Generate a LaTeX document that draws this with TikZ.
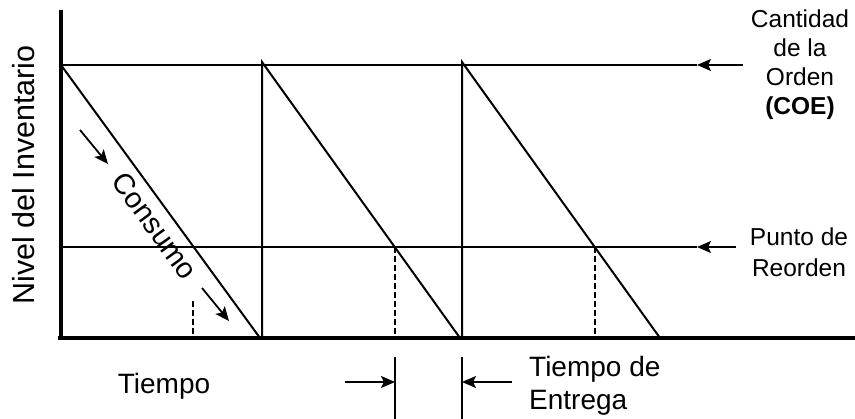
\documentclass[tikz,border=0pt]{standalone}
\usepackage{fontspec}
\setmainfont{Liberation Sans}
\usetikzlibrary{arrows.meta}
\begin{document}
\begin{tikzpicture}[x=1pt,y=-1pt,
  axisline/.style={line width=4pt},
  plotline/.style={line width=2pt},
  thinline/.style={line width=1.7pt},
  dashline/.style={line width=1.7pt,dash pattern=on 6pt off 3pt},
  arr/.style={line width=1.8pt,-{Stealth[length=14pt,width=12pt,inset=3pt]}},
  lbl/.style={inner sep=0pt,font=\fontsize{24.5}{30}\selectfont,align=center},
  big/.style={inner sep=0pt,font=\fontsize{28}{30}\selectfont}]
\useasboundingbox (0,0) rectangle (855,419);
% coordinates
\coordinate (o) at (61,338);
\coordinate (ytop) at (61,10);
\coordinate (xend) at (855,338);
\coordinate (q0) at (61,65);
\coordinate (e1) at (260,338);
\coordinate (t1) at (262,62);
\coordinate (e2) at (460,338);
\coordinate (t2) at (462,62);
\coordinate (e3) at (660,338);
\coordinate (r0) at (61,247);
\coordinate (qa) at (697,65);
\coordinate (qs) at (743,65);
\coordinate (ra) at (697,247);
\coordinate (rs) at (736,247);
% reference lines
\draw[thinline] (q0) -- (qa);
\draw[arr] (qs) -- (qa);
\draw[thinline] (r0) -- (ra);
\draw[arr] (rs) -- (ra);
% sawtooth
\draw[plotline] (q0) -- (e1);
\draw[plotline] (262,338) -- (t1) -- (e2);
\draw[plotline] (462,338) -- (t2) -- (e3);
% dashed
\draw[dashline] (193,301) -- (193,338);
\draw[dashline] (395,247) -- (395,338);
\draw[dashline] (595,247) -- (595,338);
% axes
\draw[axisline] (ytop) -- (61,340);
\draw[axisline] (58,338) -- (xend);
% lead time
\coordinate (la) at (395,357);
\coordinate (lb) at (395,419);
\coordinate (ma) at (462,357);
\coordinate (mb) at (462,419);
\draw[thinline] (la) -- (lb);
\draw[thinline] (ma) -- (mb);
\draw[arr] (345,382) -- (395,382);
\draw[arr] (512,382) -- (462,382);
% consumo arrows
\draw[arr] (80,130) -- (108,164);
\draw[arr] (202,288) -- (229,321);
% texts
\node[big,rotate=90,font=\fontsize{30.5}{32}\selectfont] (yl) at (24,175) {Nivel del Inventario};
\node[big,rotate=-53.9,font=\fontsize{29}{30}\selectfont] (cons) at (155,226) {Consumo};
\node[big] (tiempo) at (164,386) {Tiempo};
\node[big,anchor=west,align=left,font=\fontsize{28}{33}\selectfont] (te) at (529,386) {Tiempo de\\Entrega};
\node[lbl,font=\fontsize{24.5}{29}\selectfont] (coe) at (800,65) {Cantidad\\de la\\Orden\\\textbf{(COE)}};
\node[lbl,font=\fontsize{24.5}{31}\selectfont] (pr) at (799,252) {Punto de\\Reorden};
\end{tikzpicture}
\end{document}
